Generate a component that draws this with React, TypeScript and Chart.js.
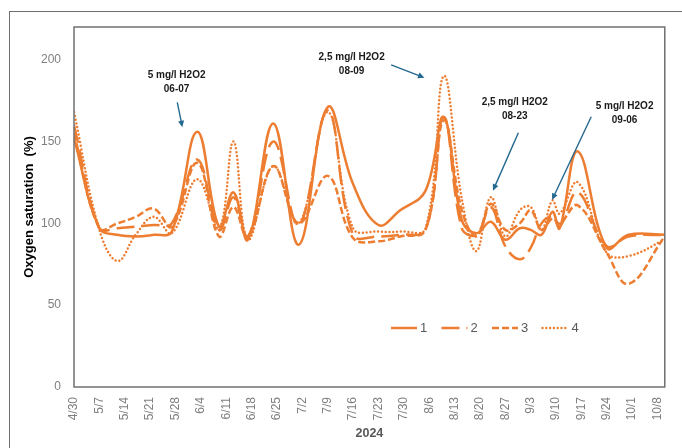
import React, { useEffect, useRef } from "react";
import { Chart, registerables } from "chart.js";

Chart.register(...registerables);

// ---- data ----
const sampleDates = [
  "4/30", "5/7", "5/12", "5/17", "5/22", "5/27", "6/3", "6/9", "6/13", "6/17",
  "6/24", "7/1", "7/9", "7/16", "7/23", "7/29", "8/5", "8/10", "8/15", "8/19",
  "8/23", "8/27", "8/31", "9/3", "9/6", "9/9", "9/11", "9/16", "9/24", "9/30", "10/10",
];
const series1 = [
  152, 97, 93, 92, 93, 95, 156, 98, 119, 90,
  161, 87, 171, 124, 99, 108, 120, 165, 102, 94,
  101, 90, 97, 96, 93, 107, 97, 144, 85, 93, 93,
];
const series2 = [
  160, 97, 97, 98, 99, 100, 139, 96, 116, 92,
  150, 99, 169, 93, 92, 93, 96, 165, 97, 93,
  110, 86, 78, 85, 100, 104, 98, 119, 86, 92, 93,
];
const series3 = [
  155, 97, 100, 104, 109, 98, 137, 92, 110, 91,
  135, 100, 129, 91, 89, 92, 96, 163, 108, 92,
  112, 96, 100, 108, 96, 103, 100, 111, 82, 63, 92,
];
const series4 = [
  168, 96, 77, 93, 104, 94, 127, 97, 150, 90,
  135, 100, 168, 97, 95, 95, 97, 190, 115, 83,
  116, 92, 108, 110, 96, 114, 106, 125, 82, 80, 90,
];
const seriesNames = ["1", "2", "3", "4"];
const xTickLabels = [
  "4/30", "5/7", "5/14", "5/21", "5/28", "6/4", "6/11", "6/18", "6/25", "7/2",
  "7/9", "7/16", "7/23", "7/30", "8/6", "8/13", "8/20", "8/27", "9/3", "9/10",
  "9/17", "9/24", "10/1", "10/8",
];
const yTickValues = [0, 50, 100, 150, 200];
const xTitle = "2024";
const yTitle = "Oxygen saturation  (%)";

// annotation texts (positions in data units: day offset from 4/30, % value)
const annotationTexts = [
  ["5 mg/l H2O2", "06-07"],
  ["2,5 mg/l H2O2", "08-09"],
  ["2,5 mg/l H2O2", "08-23"],
  ["5 mg/l H2O2", "09-06"],
];
const annotationAnchors = [
  [28.3, 190.8],
  [76.6, 201.8],
  [121.6, 174.3],
  [151.9, 171.7],
];
const arrowStarts = [
  [28.5, 174.0],
  [87.5, 196.9],
  [122.6, 155.4],
  [142.7, 165.2],
];
const arrowEnds = [
  [29.9, 158.7],
  [96.7, 189.0],
  [115.6, 120.0],
  [131.9, 114.3],
];

// ---- helpers ----
const DAY0 = Date.UTC(2024, 3, 30);
const dayOf = (md: string) => {
  const [m, d] = md.split("/").map(Number);
  return Math.round((Date.UTC(2024, m - 1, d) - DAY0) / 86400000);
};

const ORANGE = "#ED7D31";
const dashes: number[][] = [[], [18, 7], [7, 3], [0, 3.8]];
const caps: CanvasLineCap[] = ["butt", "butt", "butt", "round"];
const FONT = "'Liberation Sans', Arial, sans-serif";

const decorPlugin = {
  id: "decor",
  beforeDraw(chart: any) {
    const ctx = chart.ctx;
    ctx.save();
    ctx.fillStyle = "#ffffff";
    ctx.fillRect(0, 0, chart.width, chart.height);
    ctx.strokeStyle = "#6e6e6e";
    ctx.lineWidth = 1;
    ctx.strokeRect(9.5, 11.5, chart.width + 50, chart.height + 50);
    ctx.restore();
  },
  afterDatasetsDraw(chart: any) {
    const ctx = chart.ctx;
    const ca = chart.chartArea;
    const xs = chart.scales.x;
    const ys = chart.scales.y;
    ctx.save();
    // plot frame
    ctx.strokeStyle = "#707070";
    ctx.lineWidth = 1.5;
    ctx.strokeRect(ca.left, ca.top, ca.right - ca.left, ca.bottom - ca.top);

    // legend
    const ds = chart.data.datasets;
    ctx.font = `13px ${FONT}`;
    ctx.textBaseline = "middle";
    ctx.textAlign = "left";
    const ly = ca.top + 301;
    ds.forEach((d: any, i: number) => {
      const lx = ca.left + 317 + i * 50.5;
      ctx.beginPath();
      ctx.strokeStyle = ORANGE;
      ctx.lineWidth = 2.5;
      ctx.lineCap = caps[i];
      ctx.setLineDash(dashes[i]);
      ctx.moveTo(lx, ly);
      ctx.lineTo(lx + 26, ly);
      ctx.stroke();
      ctx.setLineDash([]);
      ctx.lineCap = "butt";
      ctx.fillStyle = "#595959";
      ctx.fillText(d.label, lx + 29, ly + 0.5);
    });

    // annotations
    ctx.font = `bold 10px ${FONT}`;
    ctx.textAlign = "center";
    ctx.textBaseline = "middle";
    ctx.fillStyle = "#1a1a1a";
    annotationTexts.forEach((lines, i) => {
      const tx = xs.getPixelForValue(annotationAnchors[i][0]);
      const ty = ys.getPixelForValue(annotationAnchors[i][1]);
      lines.forEach((t, j) => ctx.fillText(t, tx, ty + j * 14.5));
      const x1 = xs.getPixelForValue(arrowStarts[i][0]);
      const y1 = ys.getPixelForValue(arrowStarts[i][1]);
      const x2 = xs.getPixelForValue(arrowEnds[i][0]);
      const y2 = ys.getPixelForValue(arrowEnds[i][1]);
      const ang = Math.atan2(y2 - y1, x2 - x1);
      const hl = 6.5;
      const hw = 3;
      ctx.strokeStyle = "#24698F";
      ctx.fillStyle = "#24698F";
      ctx.lineWidth = 1.4;
      ctx.beginPath();
      ctx.moveTo(x1, y1);
      ctx.lineTo(x2 - Math.cos(ang) * hl * 0.8, y2 - Math.sin(ang) * hl * 0.8);
      ctx.stroke();
      ctx.beginPath();
      ctx.moveTo(x2, y2);
      ctx.lineTo(
        x2 - Math.cos(ang) * hl - Math.sin(ang) * hw,
        y2 - Math.sin(ang) * hl + Math.cos(ang) * hw
      );
      ctx.lineTo(
        x2 - Math.cos(ang) * hl + Math.sin(ang) * hw,
        y2 - Math.sin(ang) * hl - Math.cos(ang) * hw
      );
      ctx.closePath();
      ctx.fill();
      ctx.fillStyle = "#1a1a1a";
    });
    ctx.restore();
  },
};

export default function App() {
  const canvasRef = useRef<HTMLCanvasElement | null>(null);

  useEffect(() => {
    if (!canvasRef.current) return;
    Chart.defaults.font.family = FONT;
    const days = sampleDates.map(dayOf);
    const allSeries = [series1, series2, series3, series4];
    const tickDays = xTickLabels.map(dayOf);
    const labelByDay = new Map<number, string>();
    xTickLabels.forEach((l, i) => labelByDay.set(tickDays[i], l));

    const chart = new Chart(canvasRef.current, {
      type: "line",
      data: {
        datasets: allSeries.map((s, i) => ({
          label: seriesNames[i],
          data: s.map((v, j) => ({ x: days[j], y: v })),
          borderColor: ORANGE,
          backgroundColor: ORANGE,
          borderWidth: 2.5,
          borderDash: dashes[i],
          borderCapStyle: caps[i],
          pointRadius: 0,
          pointHoverRadius: 0,
          tension: 0.4,
          fill: false,
        })),
      },
      options: {
        animation: false,
        responsive: false,
        devicePixelRatio: 1,
        events: [],
        layout: { padding: { left: 0, right: 6, top: 27, bottom: 0 } },
        plugins: {
          legend: { display: false },
          tooltip: { enabled: false },
        },
        scales: {
          x: {
            type: "linear",
            min: 0,
            max: 163,
            grid: { display: false, drawTicks: false },
            border: { display: false },
            afterBuildTicks: (scale: any) => {
              scale.ticks = tickDays.map((v) => ({ value: v }));
            },
            afterFit: (scale: any) => {
              scale.height = 61;
            },
            ticks: {
              autoSkip: false,
              minRotation: 90,
              maxRotation: 90,
              padding: 10,
              color: "#7f7f7f",
              font: { size: 12, family: FONT },
              callback: (v: any) => labelByDay.get(Number(v)) ?? "",
            },
            title: {
              display: true,
              text: xTitle,
              color: "#595959",
              font: { size: 12.5, weight: "bold", family: FONT },
              padding: { top: 0, bottom: 6.5 },
            },
          },
          y: {
            type: "linear",
            min: 0,
            max: 220,
            grid: { display: false, drawTicks: false },
            border: { display: false },
            afterBuildTicks: (scale: any) => {
              scale.ticks = yTickValues.map((v) => ({ value: v }));
            },
            afterFit: (scale: any) => {
              scale.width = 74;
            },
            ticks: {
              padding: 13,
              color: "#7f7f7f",
              font: { size: 12, family: FONT },
            },
            title: {
              display: true,
              text: yTitle,
              color: "#000000",
              font: { size: 13, weight: "bold", family: FONT },
              padding: { top: 22, bottom: 0 },
            },
          },
        },
      },
      plugins: [decorPlugin],
    } as any);

    return () => chart.destroy();
  }, []);

  return (
    <div style={{ position: "absolute", left: 0, top: 0, width: 682, height: 448 }}>
      <canvas ref={canvasRef} width={682} height={448} style={{ display: "block" }} />
    </div>
  );
}
